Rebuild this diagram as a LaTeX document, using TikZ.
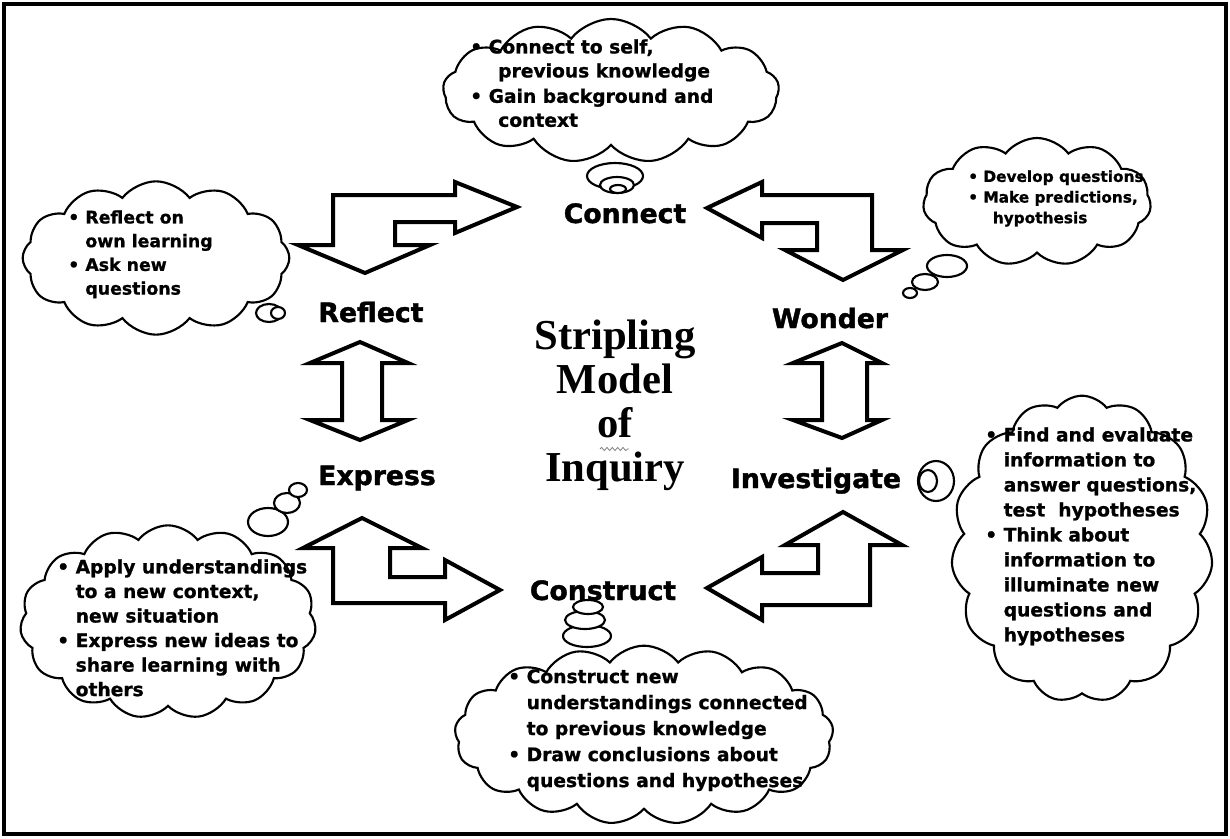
\documentclass[tikz,border=0pt]{standalone}
\usepackage{fontspec}
\setmainfont{Liberation Serif}
\newfontfamily\heavy{DejaVu Sans Bold}[FakeBold=1]
\newfontfamily\dejavu{DejaVu Sans Bold}[FakeBold=1.5]
\usetikzlibrary{shapes.symbols,decorations.pathmorphing}
\begin{document}
\begin{tikzpicture}[x=0.75pt,y=-0.75pt,
  blockarrow/.style={draw=black,fill=white,line width=3pt,line join=miter},
  cloudbox/.style={cloud,draw=black,fill=white,line width=1.6pt,cloud ignores aspect,inner sep=0pt,cloud puff arc=105},
  bubble/.style={draw=black,fill=white,line width=1.6pt},
  cloudtext/.style={anchor=north west,align=left,inner sep=0pt},
  stage/.style={anchor=base,font=\dejavu\fontsize{20}{24}\selectfont,inner sep=0pt},
]
\useasboundingbox (0,0) rectangle (1230,838);
\draw[line width=3pt] (4,4) rectangle (1226,834);

% clouds
\node[cloudbox,cloud puffs=13,minimum width=252pt,minimum height=108pt] (cC) at (611,91) {};
\node[cloudbox,cloud puffs=11,minimum width=171pt,minimum height=96pt] (cW) at (1037,202) {};
\node[cloudbox,cloud puffs=12,minimum width=200pt,minimum height=115pt] (cR) at (156,258) {};
\node[cloudbox,cloud puffs=15,minimum width=222pt,minimum height=145pt] (cE) at (168,622) {};
\node[cloudbox,cloud puffs=15,minimum width=196pt,minimum height=230pt] (cI) at (1082,549) {};
\node[cloudbox,cloud puffs=17,minimum width=284pt,minimum height=134pt] (cK) at (644,735) {};

% thought bubbles
\draw[bubble] (615,176) ellipse [x radius=28, y radius=13];
\draw[bubble] (617,185) ellipse [x radius=17, y radius=8];
\draw[bubble] (618,189) ellipse [x radius=8, y radius=4];

\draw[bubble] (947,266) ellipse [x radius=20, y radius=11];
\draw[bubble] (925,282) ellipse [x radius=13, y radius=8];
\draw[bubble] (910,293) ellipse [x radius=7, y radius=5];

\draw[bubble] (269,313) ellipse [x radius=13, y radius=9];
\draw[bubble] (278,313) ellipse [x radius=7, y radius=6];

\draw[bubble] (268,522) ellipse [x radius=20, y radius=14];
\draw[bubble] (287,503) ellipse [x radius=13, y radius=10];
\draw[bubble] (298,490) ellipse [x radius=9, y radius=7];

\draw[bubble] (936,481) ellipse [x radius=18, y radius=20];
\draw[bubble] (928,481) ellipse [x radius=9, y radius=11];

\draw[bubble] (587,636) ellipse [x radius=24, y radius=11];
\draw[bubble] (585,620) ellipse [x radius=20, y radius=9];
\draw[bubble] (588,607) ellipse [x radius=15, y radius=7];

% cloud texts
\node[cloudtext,font=\heavy\fontsize{14}{18}\selectfont] (tC) at (470,39)
  {• Connect to self,\\\hspace*{1.5em}previous knowledge\\[1pt]• Gain background and\\\hspace*{1.5em}context};
\node[cloudtext,font=\heavy\fontsize{11.5}{15.5}\selectfont] (tW) at (968,170)
  {• Develop questions\\• Make predictions,\\\hspace*{1.6em}hypothesis};
\node[cloudtext,font=\heavy\fontsize{13}{17.8}\selectfont] (tR) at (68,210)
  {• Reflect on\\\hphantom{• }own learning\\• Ask new\\\hphantom{• }questions};
\node[cloudtext,font=\heavy\fontsize{14}{18.4}\selectfont] (tE) at (57,559)
  {• Apply understandings\\\hphantom{• }to a new context,\\\hphantom{• }new situation\\• Express new ideas to\\\hphantom{• }share learning with\\\hphantom{• }others};
\node[cloudtext,font=\heavy\fontsize{14}{18.75}\selectfont] (tI) at (985,427)
  {• Find and evaluate\\\hphantom{• }information to\\\hphantom{• }answer questions,\\\hphantom{• }test\ \ hypotheses\\• Think about\\\hphantom{• }information to\\\hphantom{• }illuminate new\\\hphantom{• }questions and\\\hphantom{• }hypotheses};
\node[cloudtext,font=\heavy\fontsize{14}{19.5}\selectfont] (tK) at (508,669)
  {• Construct new\\\hphantom{• }understandings connected\\\hphantom{• }to previous knowledge\\• Draw conclusions about\\\hphantom{• }questions and hypotheses};

% block arrows
\draw[blockarrow] (333,245) -- (333,195) -- (455,195) -- (455,182) -- (517,207) -- (455,233) -- (455,222) -- (395,222) -- (395,245) -- (430,245) -- (365,273) -- (298,245) -- cycle;
\draw[blockarrow] (707,208) -- (762,182) -- (762,195) -- (872,195) -- (872,250) -- (903,250) -- (843,280) -- (785,250) -- (817,250) -- (817,223) -- (762,223) -- (762,238) -- cycle;
\draw[blockarrow] (360,342) -- (408,363) -- (382,363) -- (382,420) -- (408,420) -- (360,440) -- (310,420) -- (342,420) -- (342,363) -- (310,363) -- cycle;
\draw[blockarrow] (842,343) -- (882,363) -- (867,363) -- (867,420) -- (882,420) -- (842,438) -- (793,420) -- (822,420) -- (822,363) -- (793,363) -- cycle;
\draw[blockarrow] (362,518) -- (422,548) -- (390,548) -- (390,577) -- (445,577) -- (445,560) -- (500,590) -- (445,620) -- (445,603) -- (333,603) -- (333,548) -- (303,548) -- cycle;
\draw[blockarrow] (843,512) -- (902,545) -- (870,545) -- (870,605) -- (762,605) -- (762,620) -- (707,588) -- (762,557) -- (762,573) -- (818,573) -- (818,545) -- (785,545) -- cycle;

% stage labels
\node[stage] (connect) at (625,223) {Connect};
\node[stage] (wonder) at (830,328) {Wonder};
\node[stage] (reflect) at (371,322) {Reflect};
\node[stage] (express) at (377,485) {Express};
\node[stage] (investigate) at (816,488) {Investigate};
\node[stage] (construct) at (603,600) {Construct};

% title
\node[font=\bfseries\fontsize{32}{33}\selectfont,align=center,inner sep=0pt] (title) at (615,405)
  {Stripling\\Model\\of\\Inquiry};
\draw[gray,line width=0.6pt,decorate,decoration={snake,amplitude=1.2pt,segment length=4pt}] (600,449) -- (629,449);
\end{tikzpicture}
\end{document}
